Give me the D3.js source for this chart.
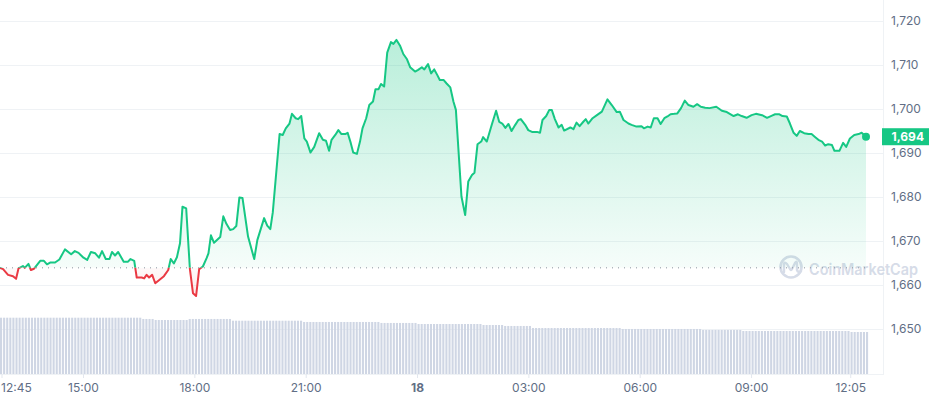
<!DOCTYPE html>
<html><head><meta charset="utf-8">
<script src="https://cdn.jsdelivr.net/npm/d3@7"></script>
<style>html,body{margin:0;padding:0;background:#fff;overflow:hidden}svg{display:block;font-family:Inter,"Noto Sans",sans-serif}</style>
</head><body><svg id="chart" width="929" height="400"></svg>
<script>
// ---------- data ----------
const startTime = "2023-03-17T12:45:00";
const endTime = "2023-03-18T12:05:00";
// minutes after startTime
const minutes = [0,5,13,21,26,30,37,40,46,50,55,65,71,76,81,89,96,105,115,121,127,135,141,147,154,160,165,171,177,181,186,191,200,207,211,217,221,229,233,237,241,246,251,259,265,272,276,281,286,291,295,301,307,312,317,322,328,334,337,341,346,356,361,366,372,377,382,387,392,401,411,416,427,432,437,441,452,457,462,468,472,478,482,487,492,496,502,508,516,522,527,532,536,542,547,552,558,562,567,571,577,582,586,592,597,603,607,612,616,621,626,632,636,641,647,652,658,663,671,676,682,686,692,697,702,707,711,717,722,728,733,737,746,752,757,763,767,772,778,781,787,795,802,807,812,817,822,827,833,838,842,849,854,860,868,873,877,883,888,892,897,903,908,912,922,927,932,937,943,947,951,958,965,973,982,989,997,1002,1008,1016,1021,1029,1037,1041,1047,1052,1057,1063,1068,1074,1079,1084,1090,1095,1101,1107,1113,1121,1127,1133,1140,1147,1158,1167,1175,1186,1193,1199,1207,1215,1222,1232,1240,1248,1253,1260,1265,1272,1277,1283,1288,1293,1300,1307,1312,1318,1323,1329,1334,1339,1345,1349,1357,1363,1368,1374,1381,1388,1393,1400];
const prices = [1663.9,1663.6,1662.3,1662.0,1661.4,1663.8,1664.3,1663.9,1664.8,1663.4,
1663.7,1665.5,1665.5,1664.7,1665.1,1665.1,1665.8,1668.1,1667.0,1667.7,
1667.3,1666.2,1665.7,1667.5,1667.2,1666.2,1667.7,1665.9,1665.9,1667.5,
1666.7,1667.5,1665.3,1665.3,1665.9,1665.5,1661.7,1661.7,1661.5,1662.3,
1661.7,1662.3,1660.4,1661.3,1662.0,1663.4,1665.9,1664.9,1666.3,1669.5,
1677.8,1677.4,1663.6,1658.1,1657.5,1663.6,1664.2,1666.1,1667.2,1671.3,
1669.6,1670.9,1675.6,1673.9,1672.5,1672.7,1673.4,1679.9,1679.8,1671.0,
1665.9,1670.2,1675.2,1673.5,1672.7,1676.5,1694.3,1694.1,1695.6,
1696.7,1698.9,1697.9,1697.7,1698.4,1693.3,1692.6,1690.1,1691.4,1694.5,
1693.0,1692.8,1690.5,1693.0,1694.1,1695.2,1694.3,1694.3,1694.6,1692.3,
1690.1,1689.8,1692.6,1695.6,1697.9,1700.9,1701.7,1704.5,1704.5,1705.7,
1705.1,1712.8,1715.2,1714.8,1715.7,1714.3,1712.5,1711.3,1709.5,1708.5,
1708.9,1709.5,1709.0,1710.2,1708.1,1709.0,1707.7,1706.6,1706.6,1705.8,
1704.9,1701.7,1699.8,1680.1,1675.9,1683.5,1685.0,1685.5,1692.0,1692.6,
1693.6,1692.6,1696.4,1699.6,1697.1,1696.7,1695.7,1696.6,1695.0,1696.4,
1697.5,1697.7,1696.4,1695.2,1694.8,1694.8,1694.6,1697.5,1698.4,1699.8,
1699.8,1697.7,1695.8,1696.4,1695.1,1695.8,1695.4,1696.9,1696.1,1697.1,
1697.7,1696.7,1697.9,1698.6,1699.4,1702.2,1700.9,1699.3,1699.4,1697.5,
1696.7,1696.4,1696.0,1696.1,1695.6,1696.0,1695.8,1697.9,1697.9,1696.6,
1697.9,1698.3,1698.8,1698.9,1699.0,1700.2,1701.9,1700.9,1700.5,1701.1,
1700.5,1700.3,1700.2,1700.5,1699.6,1699.3,1698.4,1698.8,1698.4,1698.0,
1698.6,1698.9,1698.6,1698.0,1698.5,1698.8,1698.8,1698.4,1698.3,1696.7,
1694.6,1693.9,1695.0,1694.5,1694.3,1694.3,1693.6,1693.0,1692.6,1691.7,
1692.0,1691.8,1690.5,1690.5,1692.3,1691.4,1693.3,1694.1,1694.3,1694.6,1693.7];
const openPrice = 1663.9;
// 24h volume (billions), one bar every 5 minutes from startTime
const volumeStepMinutes = 5;
const volumes = [
8.04,8.04,8.04,8.04,8.04,8.04,8.04,8.04,8.04,8.04,
8.04,8.04,8.04,8.04,8.04,8.04,8.04,8.04,8.04,8.04,
8.04,8.04,8.04,8.04,8.04,8.04,8.04,8.04,8.04,8.04,
8.04,8.04,8.04,8.04,8.04,8.04,8.04,8.04,8.04,8.04,
8.04,8.04,8.04,8.04,8.04,8.04,
7.86,7.86,7.86,7.86,
7.71,7.71,7.71,7.71,7.71,7.71,7.71,7.71,7.71,7.71,7.71,
7.86,7.86,7.86,7.86,7.86,7.86,7.86,7.86,7.86,7.86,7.86,7.86,7.86,7.86,
7.61,7.61,7.61,7.61,7.61,7.61,7.61,7.61,7.61,7.61,7.61,7.61,
7.61,7.61,7.61,7.61,7.61,7.61,7.61,7.61,7.61,7.61,7.61,
7.43,7.43,7.43,7.43,7.43,7.43,7.43,7.43,7.43,7.43,7.43,7.43,7.43,
7.43,7.43,7.43,7.43,7.43,7.43,7.43,7.43,7.43,7.43,7.43,7.43,
7.29,7.29,7.29,7.29,7.29,7.29,7.29,7.29,7.29,7.29,7.29,7.29,
7.14,7.14,7.14,7.14,7.14,7.14,7.14,7.14,7.14,7.14,7.14,
7.14,7.14,7.14,7.14,7.14,7.14,7.14,7.14,7.14,7.14,
7.00,7.00,7.00,7.00,7.00,7.00,7.00,
6.86,6.86,6.86,6.86,6.86,6.86,6.86,6.86,6.86,
6.57,6.57,6.57,6.57,6.57,6.57,6.57,6.57,6.57,6.57,
6.57,6.57,6.57,6.57,6.57,6.57,6.57,6.57,6.57,6.57,
6.57,6.57,6.57,6.57,6.57,6.57,6.57,6.57,6.57,
6.43,6.43,6.43,6.43,6.43,6.43,6.43,6.43,6.43,6.43,6.43,6.43,6.43,
6.43,6.43,6.43,6.43,6.43,6.43,6.43,6.43,6.43,6.43,6.43,6.43,6.43,
6.29,6.29,6.29,6.29,6.29,6.29,6.29,6.29,6.29,6.29,6.29,6.29,6.29,
6.14,6.14,6.14,6.14,6.14,6.14,6.14,6.14,6.14,6.14,6.14,6.14,
6.14,6.14,6.14,6.14,6.14,6.14,6.14,6.14,6.14,6.14,6.14,6.14,
6.14,6.14,6.14,6.14,6.14,6.14,6.14,6.14,6.14,6.14,6.14,
6.00,6.00,6.00,6.00,6.00,6.00];
const yTicks = [1650,1660,1670,1680,1690,1700,1710,1720];
const xTickTimes = ["2023-03-17T12:45:00","2023-03-17T15:00:00","2023-03-17T18:00:00","2023-03-17T21:00:00","2023-03-18T00:00:00","2023-03-18T03:00:00","2023-03-18T06:00:00","2023-03-18T09:00:00","2023-03-18T12:05:00"];
const xTickLabels = ["12:45","15:00","18:00","21:00","18","03:00","06:00","09:00","12:05"];
const watermarkText = "CoinMarketCap";

// ---------- layout ----------
const W = 929, H = 400;
const plotRight = 883, axisBottom = 374, dataRight = 866;
const GREEN = "#16c784", RED = "#ea3943", GRID = "#eff2f5", TXT = "#616e85";

const parse = d3.isoParse;
const t0 = parse(startTime);
const data = minutes.map((m, i) => ({t: d3.timeMinute.offset(t0, m), v: prices[i]}));
const vols = volumes.map((v, i) => ({t: d3.timeMinute.offset(t0, i * volumeStepMinutes), v}));

const x = d3.scaleTime().domain([t0, parse(endTime)]).range([0, dataRight]);
const y = d3.scaleLinear().domain([1650, 1720]).range([329, 21]);
const yv = d3.scaleLinear().domain([0, 8.04]).range([axisBottom, 317.7]);

const svg = d3.select("#chart");
const defs = svg.append("defs");
const baseY = y(openPrice);

defs.append("clipPath").attr("id", "above").append("rect")
  .attr("x", -5).attr("y", 0).attr("width", W).attr("height", baseY);
defs.append("clipPath").attr("id", "below").append("rect")
  .attr("x", -5).attr("y", baseY).attr("width", W).attr("height", H - baseY);

const gG = defs.append("linearGradient").attr("id", "gg").attr("gradientUnits", "userSpaceOnUse")
  .attr("x1", 0).attr("x2", 0).attr("y1", y(1716)).attr("y2", baseY);
gG.append("stop").attr("offset", 0).attr("stop-color", GREEN).attr("stop-opacity", 0.3);
gG.append("stop").attr("offset", 1).attr("stop-color", GREEN).attr("stop-opacity", 0.04);
const gR = defs.append("linearGradient").attr("id", "gr").attr("gradientUnits", "userSpaceOnUse")
  .attr("x1", 0).attr("x2", 0).attr("y1", baseY).attr("y2", y(1657));
gR.append("stop").attr("offset", 0).attr("stop-color", RED).attr("stop-opacity", 0.03);
gR.append("stop").attr("offset", 1).attr("stop-color", RED).attr("stop-opacity", 0.12);

// gridlines
svg.append("g").selectAll("line").data(yTicks).join("line")
  .attr("x1", 0).attr("x2", plotRight).attr("y1", d => y(d)).attr("y2", d => y(d))
  .attr("stroke", GRID).attr("stroke-width", 1).attr("shape-rendering", "crispEdges");
svg.append("line").attr("x1", plotRight + 0.5).attr("x2", plotRight + 0.5).attr("y1", 0).attr("y2", axisBottom + 1)
  .attr("stroke", GRID);
svg.append("line").attr("x1", 0).attr("x2", plotRight).attr("y1", axisBottom + 0.5).attr("y2", axisBottom + 0.5)
  .attr("stroke", GRID);

// y labels
svg.append("g").selectAll("text").data(yTicks).join("text")
  .attr("x", 891).attr("y", d => y(d)).attr("dy", "0.35em")
  .attr("font-size", 12).attr("fill", TXT).text(d3.format(","));

// volume bars
const pitch = x(d3.timeMinute.offset(t0, volumeStepMinutes)) - x(t0);
svg.append("g").selectAll("rect").data(vols).join("rect")
  .attr("x", d => x(d.t)).attr("width", pitch - 1)
  .attr("y", d => yv(d.v)).attr("height", d => axisBottom - yv(d.v))
  .attr("fill", "#cfd6e4");

// watermark
const wm = svg.append("g").attr("opacity", 0.85);
wm.append("circle").attr("cx", 791).attr("cy", 267).attr("r", 10.5)
  .attr("fill", "none").attr("stroke", "#cfd6e4").attr("stroke-width", 2.6);
wm.append("path").attr("d", "M784,272 L784,265 Q784,261 787,264 L790,269 Q791,271 792,269 L795,263 Q797,260 797,264 L797,270 Q798,273 801,271")
  .attr("fill", "none").attr("stroke", "#cfd6e4").attr("stroke-width", 2.4).attr("stroke-linecap", "round").attr("stroke-linejoin", "round");
wm.append("text").attr("x", 809).attr("y", 274.5).attr("font-size", 15.5).attr("font-weight", 600)
  .attr("fill", "#cfd6e4").attr("textLength", 109).attr("lengthAdjust", "spacingAndGlyphs").text(watermarkText);

// area fills
const area = d3.area().x(d => x(d.t)).y0(baseY).y1(d => y(d.v));
svg.append("path").datum(data).attr("d", area).attr("fill", "url(#gg)").attr("clip-path", "url(#above)");
svg.append("path").datum(data).attr("d", area).attr("fill", "url(#gr)").attr("clip-path", "url(#below)");

// baseline (open price)
svg.append("line").attr("x1", 0).attr("x2", dataRight).attr("y1", baseY).attr("y2", baseY)
  .attr("stroke", "#8a939f").attr("stroke-width", 1).attr("stroke-dasharray", "1,5");

// price line
const line = d3.line().x(d => x(d.t)).y(d => y(d.v));
svg.append("path").datum(data).attr("d", line).attr("fill", "none").attr("stroke", GREEN)
  .attr("stroke-width", 2).attr("stroke-linejoin", "round").attr("clip-path", "url(#above)");
svg.append("path").datum(data).attr("d", line).attr("fill", "none").attr("stroke", RED)
  .attr("stroke-width", 2).attr("stroke-linejoin", "round").attr("clip-path", "url(#below)");

// last point
const last = data[data.length - 1];
svg.append("circle").attr("cx", x(last.t)).attr("cy", y(last.v)).attr("r", 4).attr("fill", GREEN);

// price tag
svg.append("rect").attr("x", 882).attr("y", y(last.v) - 8.5).attr("width", 47).attr("height", 17).attr("fill", GREEN);
svg.append("text").attr("x", 891.5).attr("y", y(last.v)).attr("dy", "0.36em").attr("font-size", 12)
  .attr("font-weight", 700).attr("fill", "#fff").text(d3.format(",.0f")(last.v));

// x axis
const xt = svg.append("g");
xTickTimes.forEach((ts, i) => {
  const px = x(parse(ts));
  const anchor = i === 0 ? "start" : (i === xTickTimes.length - 1 ? "end" : "middle");
  const tx = i === 0 ? px + 1 : px;
  const t = xt.append("text").attr("x", tx).attr("y", 392).attr("text-anchor", anchor)
    .attr("font-size", 12).attr("fill", TXT)
    .attr("font-weight", xTickLabels[i] === "18" ? 700 : 400).text(xTickLabels[i]);
  const bb = t.node().getBBox();
  const tickX = i === 0 ? px + 2 : (i === xTickTimes.length - 1 ? bb.x + bb.width / 2 : px);
  xt.append("line").attr("x1", tickX).attr("x2", tickX).attr("y1", axisBottom).attr("y2", axisBottom + 4)
    .attr("stroke", "#e3e7ee");
});
</script></body></html>
